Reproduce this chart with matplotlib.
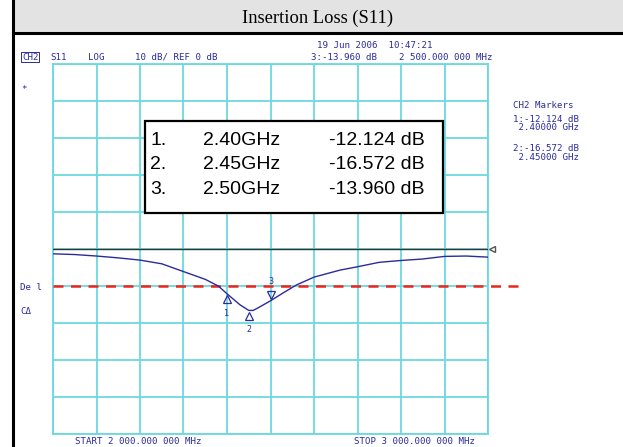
import matplotlib.pyplot as plt
import matplotlib.transforms as mtransforms
from matplotlib.patches import Rectangle
from matplotlib.lines import Line2D

W, H = 623, 447

# trace (GHz, dB)
freq_ghz = [2.00, 2.05, 2.10, 2.15, 2.20, 2.25, 2.30, 2.35, 2.38, 2.40, 2.43,
            2.45, 2.46, 2.47, 2.50, 2.53, 2.56, 2.60, 2.66, 2.70, 2.75, 2.80,
            2.85, 2.90, 2.95, 3.00]
s11_db = [-1.3, -1.5, -1.9, -2.4, -3.0, -4.0, -6.1, -8.2, -10.0, -12.1, -15.1,
          -16.6, -16.6, -16.0, -14.0, -11.8, -9.7, -7.6, -5.7, -4.8, -3.6, -3.1,
          -2.7, -2.0, -1.9, -2.2]

marker_ids = ["1", "2", "3"]
marker_freq = [2.40, 2.45, 2.50]
marker_db = [-12.124, -16.572, -13.960]
marker_freq_labels = ["2.40GHz", "2.45GHz", "2.50GHz"]
marker_db_labels = ["-12.124 dB", "-16.572 dB", "-13.960 dB"]

ref_level = 0.0
limit_level = -10.0

GRID = "#6ad9df"
BLUE = "#2b2b9c"
MONO = "DejaVu Sans Mono"


def fx(x):
    return x / W


def fy(y):
    return 1 - y / H


def screen_text(fig, x, y, s, size=6.6, **kw):
    fig.text(fx(x), fy(y), s, fontsize=size, family=MONO, color=BLUE,
             va="center", ha="left", **kw)


fig = plt.figure(figsize=(W / 100, H / 100), dpi=100)
fig.patch.set_facecolor("white")

# title bar
fig.patches.append(Rectangle((fx(13), fy(33)), 1 - fx(13), 1 - fy(33),
                             transform=fig.transFigure, facecolor="#e3e3e3",
                             edgecolor="none", zorder=0))
fig.lines.append(Line2D([fx(13), 1], [fy(33), fy(33)], transform=fig.transFigure,
                        color="black", linewidth=2.2))
fig.lines.append(Line2D([fx(13), fx(13)], [0, 1], transform=fig.transFigure,
                        color="black", linewidth=2.2))
fig.text(fx(318), fy(18), "Insertion Loss (S11)", fontsize=13.3,
         family="Liberation Serif", ha="center", va="center")

# analyzer graticule
ax = fig.add_axes([fx(53), fy(434), (488 - 53) / W, (434 - 64) / H])
ax.set_xlim(2.0, 3.0)
ax.set_ylim(-50, 50)
ax.set_xticks([2.0 + 0.1 * i for i in range(11)])
ax.set_yticks([-50 + 10 * i for i in range(11)])
ax.tick_params(length=0, labelbottom=False, labelleft=False)
ax.grid(True, color=GRID, linewidth=1.3)
for spine in ax.spines.values():
    spine.set_color(GRID)
    spine.set_linewidth(1.3)

ax.plot([2.0, 3.0], [ref_level, ref_level], color="#333333", linewidth=1.0, zorder=3)
ax.plot([3.01], [ref_level], marker="<", markersize=4, markerfacecolor="white",
        markeredgecolor="#555555", clip_on=False, zorder=3)
ax.plot([2.0, 3.069], [limit_level, limit_level], color="#e8281e", linewidth=1.8,
        linestyle=(0, (4, 3)), clip_on=False, zorder=4)
ax.plot(freq_ghz, s11_db, color=BLUE, linewidth=1.0, zorder=5)

down = mtransforms.offset_copy(ax.transData, fig=fig, x=0, y=-4, units="points")
up = mtransforms.offset_copy(ax.transData, fig=fig, x=0, y=4, units="points")
for mid, f, d in zip(marker_ids, marker_freq, marker_db):
    if mid == "3":
        ax.plot([f], [d], marker="v", markersize=6, markerfacecolor="none",
                markeredgecolor=BLUE, markeredgewidth=0.9, transform=up, zorder=6)
        ax.text(f, d + 3.8, mid, color=BLUE, fontsize=6, family=MONO,
                ha="center", va="center", transform=up)
    else:
        ax.plot([f], [d], marker="^", markersize=6, markerfacecolor="none",
                markeredgecolor=BLUE, markeredgewidth=0.9, transform=down, zorder=6)
        ax.text(f, d - 3.8, mid, color=BLUE, fontsize=6, family=MONO,
                ha="center", va="center", transform=down)

# marker table
fig.patches.append(Rectangle((fx(145), fy(213)), fx(443) - fx(145), fy(121) - fy(213),
                             transform=fig.transFigure, facecolor="white",
                             edgecolor="black", linewidth=1.6, zorder=5))
for i, (mid, fl, dl) in enumerate(zip(marker_ids, marker_freq_labels, marker_db_labels)):
    y = 140 + 24.5 * i
    for x, s in [(150, mid + "."), (203, fl), (329, dl)]:
        fig.text(fx(x), fy(y), s, fontsize=14, family="Liberation Sans",
                 ha="left", va="center", zorder=6)

# screen annotations
screen_text(fig, 317, 46, "19 Jun 2006  10:47:21")
screen_text(fig, 22, 57, "CH2",
            bbox=dict(boxstyle="square,pad=0.1", facecolor="none", edgecolor=BLUE, linewidth=0.7))
screen_text(fig, 50, 57, "S11")
screen_text(fig, 88, 57, "LOG")
screen_text(fig, 135, 57, "10 dB/ REF 0 dB")
screen_text(fig, 311, 57, "3:-13.960 dB")
screen_text(fig, 399, 57, "2 500.000 000 MHz")
screen_text(fig, 21, 90, "*")
screen_text(fig, 20, 287, "De l")
screen_text(fig, 20, 312, "C\u0394")
screen_text(fig, 513, 105, "CH2 Markers")
screen_text(fig, 513, 119, "1:-12.124 dB")
screen_text(fig, 513, 128, " 2.40000 GHz")
screen_text(fig, 513, 149, "2:-16.572 dB")
screen_text(fig, 513, 157, " 2.45000 GHz")
screen_text(fig, 75, 441, "START 2 000.000 000 MHz")
screen_text(fig, 354, 441, "STOP 3 000.000 000 MHz")

fig.savefig("out.png", dpi=100)
